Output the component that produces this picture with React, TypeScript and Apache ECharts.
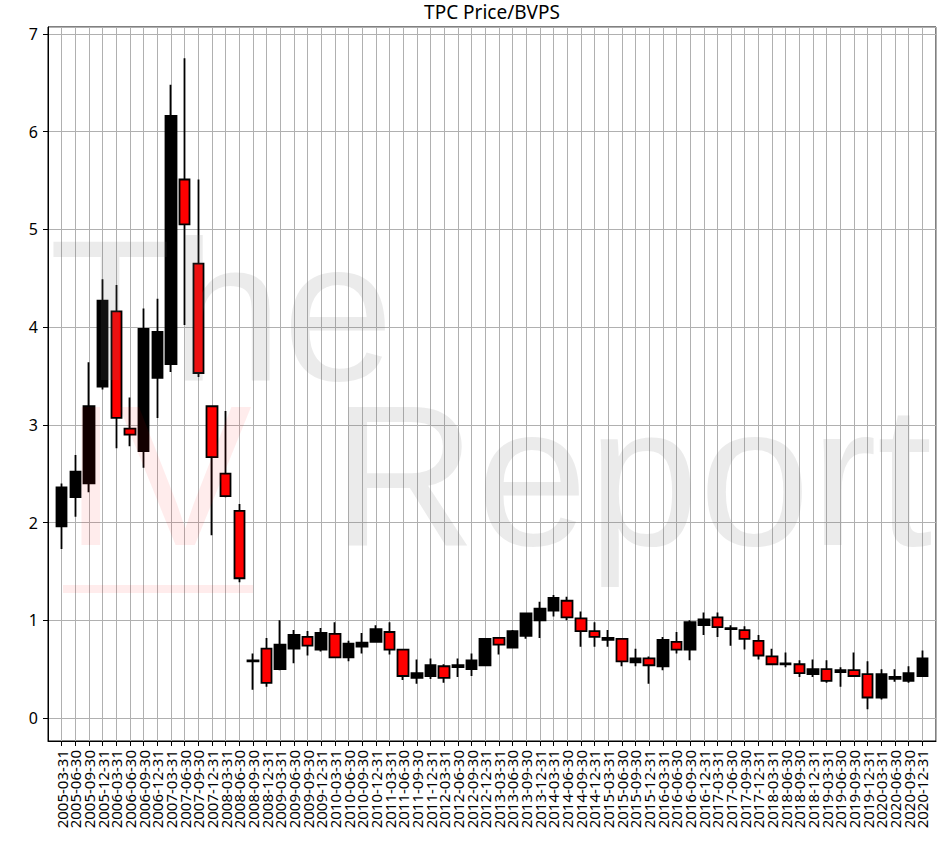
import React, { useEffect, useRef } from "react";
import * as echarts from "echarts";

const dates = [
  "2005-03-31", "2005-06-30", "2005-09-30", "2005-12-31",
  "2006-03-31", "2006-06-30", "2006-09-30", "2006-12-31",
  "2007-03-31", "2007-06-30", "2007-09-30", "2007-12-31",
  "2008-03-31", "2008-06-30", "2008-09-30", "2008-12-31",
  "2009-03-31", "2009-06-30", "2009-09-30", "2009-12-31",
  "2010-03-31", "2010-06-30", "2010-09-30", "2010-12-31",
  "2011-03-31", "2011-06-30", "2011-09-30", "2011-12-31",
  "2012-03-31", "2012-06-30", "2012-09-30", "2012-12-31",
  "2013-03-31", "2013-06-30", "2013-09-30", "2013-12-31",
  "2014-03-31", "2014-06-30", "2014-09-30", "2014-12-31",
  "2015-03-31", "2015-06-30", "2015-09-30", "2015-12-31",
  "2016-03-31", "2016-06-30", "2016-09-30", "2016-12-31",
  "2017-03-31", "2017-06-30", "2017-09-30", "2017-12-31",
  "2018-03-31", "2018-06-30", "2018-09-30", "2018-12-31",
  "2019-03-31", "2019-06-30", "2019-09-30", "2019-12-31",
  "2020-03-31", "2020-06-30", "2020-09-30", "2020-12-31",
];

const opens = [
  1.96, 2.26, 2.40, 3.39, 4.16, 2.96, 2.73, 3.48, 3.62, 5.51, 4.65, 3.19, 2.50, 2.12,
  0.58, 0.71, 0.50, 0.71, 0.83, 0.70, 0.86, 0.62, 0.73, 0.78, 0.88, 0.70, 0.41, 0.43,
  0.53, 0.52, 0.50, 0.54, 0.82, 0.72, 0.84, 1.00, 1.10, 1.20, 1.02, 0.89, 0.80, 0.81,
  0.57, 0.61, 0.53, 0.78, 0.70, 0.95, 1.03, 0.91, 0.90, 0.79, 0.63, 0.55, 0.55, 0.45,
  0.50, 0.47, 0.49, 0.45, 0.21, 0.40, 0.38, 0.43,
];
const closes = [
  2.36, 2.52, 3.19, 4.27, 3.07, 2.90, 3.98, 3.95, 6.16, 5.05, 3.53, 2.67, 2.27, 1.43,
  0.59, 0.36, 0.75, 0.85, 0.74, 0.87, 0.62, 0.76, 0.77, 0.91, 0.70, 0.43, 0.46, 0.54,
  0.41, 0.54, 0.59, 0.81, 0.75, 0.89, 1.07, 1.12, 1.23, 1.03, 0.89, 0.83, 0.82, 0.58,
  0.61, 0.54, 0.80, 0.70, 0.98, 1.01, 0.93, 0.92, 0.81, 0.64, 0.55, 0.56, 0.46, 0.50,
  0.38, 0.49, 0.43, 0.21, 0.45, 0.42, 0.46, 0.61,
];
const lows = [
  1.73, 2.06, 2.31, 3.36, 2.76, 2.78, 2.56, 3.07, 3.54, 4.02, 3.49, 1.87, 2.26, 1.39,
  0.29, 0.32, 0.49, 0.56, 0.64, 0.68, 0.62, 0.58, 0.66, 0.78, 0.65, 0.39, 0.35, 0.40,
  0.36, 0.42, 0.43, 0.54, 0.65, 0.72, 0.81, 0.82, 1.04, 1.00, 0.73, 0.73, 0.73, 0.53,
  0.53, 0.35, 0.49, 0.66, 0.59, 0.85, 0.83, 0.74, 0.70, 0.60, 0.54, 0.52, 0.42, 0.42,
  0.36, 0.32, 0.43, 0.09, 0.19, 0.37, 0.36, 0.43,
];
const highs = [
  2.40, 2.69, 3.64, 4.49, 4.43, 3.28, 4.19, 4.29, 6.48, 6.75, 5.51, 3.19, 3.14, 2.19,
  0.66, 0.82, 1.00, 0.90, 0.89, 0.92, 0.98, 0.79, 0.87, 0.95, 0.98, 0.70, 0.60, 0.61,
  0.55, 0.61, 0.66, 0.81, 0.83, 0.90, 1.08, 1.19, 1.26, 1.24, 1.09, 0.98, 0.90, 0.81,
  0.71, 0.63, 0.83, 0.88, 1.00, 1.08, 1.08, 0.95, 0.94, 0.85, 0.71, 0.67, 0.59, 0.60,
  0.59, 0.52, 0.67, 0.58, 0.50, 0.50, 0.53, 0.69,
];

const yTickValues = [0, 1, 2, 3, 4, 5, 6, 7];

const TITLE = "TPC Price/BVPS";

export default function App() {
  const ref = useRef<HTMLDivElement>(null);

  useEffect(() => {
    if (!ref.current) return;
    const chart = echarts.init(ref.current, null, { renderer: "svg" });
    const data = dates.map((_, i) => [i, opens[i], closes[i], lows[i], highs[i]]);
    const gray = "rgba(117,117,117,0.145)";
    const red = "rgba(255,0,0,0.075)";
    const wmFont = '200px "Liberation Sans", Arial, sans-serif';
    const option: any = {
      animation: false,
      backgroundColor: "#ffffff",
      grid: {
        left: 48,
        right: 13,
        top: 27,
        bottom: 100,
        show: true,
        borderColor: "#000",
        borderWidth: 1,
        backgroundColor: "transparent",
      },
      xAxis: {
        type: "value",
        min: -1,
        max: 64,
        interval: 1,
        axisLine: { show: true, onZero: false, lineStyle: { color: "#000", width: 1 } },
        axisTick: { show: true, length: 5, lineStyle: { color: "#000", width: 1 } },
        axisLabel: {
          rotate: 90,
          margin: 9,
          fontSize: 15,
          color: "#000",
          fontFamily: '"Noto Sans", sans-serif',
          showMinLabel: false,
          showMaxLabel: false,
          formatter: (v: number) => dates[v] ?? "",
        },
        splitLine: { show: true, lineStyle: { color: "#b0b0b0", width: 1 } },
      },
      yAxis: {
        type: "value",
        min: -0.235,
        max: 7.07,
        splitNumber: 7,
        axisLine: { show: true, onZero: false, lineStyle: { color: "#000", width: 1 } },
        axisTick: { show: true, length: 5, lineStyle: { color: "#000", width: 1 } },
        axisLabel: {
          margin: 10,
          fontSize: 16,
          color: "#000",
          fontFamily: '"Noto Sans", sans-serif',
          showMinLabel: false,
          showMaxLabel: false,
          formatter: (v: number) => (yTickValues.includes(v) ? String(v) : ""),
        },
        splitLine: { show: true, lineStyle: { color: "#b0b0b0", width: 1 } },
      },
      series: [
        {
          type: "candlestick",
          data,
          encode: { x: 0, y: [1, 2, 3, 4] },
          barWidth: 11,
          itemStyle: {
            color: "#000000",
            color0: "#ff0000",
            borderColor: "#000000",
            borderColor0: "#000000",
            borderWidth: 1.8,
          },
        },
      ],
      graphic: [
        {
          type: "text",
          z: 100,
          x: 492,
          y: 12,
          style: {
            text: TITLE,
            fill: "#000",
            font: '19px "Noto Sans", sans-serif',
            textAlign: "center",
            textVerticalAlign: "middle",
          },
        },
        {
          type: "text",
          z: 100,
          silent: true,
          x: 49,
          y: 380 - 69.3,
          style: {
            text: "The",
            fill: gray,
            font: wmFont,
            lineHeight: 150,
            textAlign: "left",
            textVerticalAlign: "middle",
          },
        },
        {
          type: "text",
          z: 100,
          silent: true,
          x: 63,
          y: 545 - 69.3,
          style: {
            text: "IV",
            fill: red,
            font: wmFont,
            lineHeight: 150,
            textAlign: "left",
            textVerticalAlign: "middle",
          },
        },
        {
          type: "rect",
          z: 100,
          silent: true,
          shape: { x: 63, y: 585, width: 190, height: 8 },
          style: { fill: red },
        },
        {
          type: "text",
          z: 100,
          silent: true,
          x: 332,
          y: 545 - 69.3,
          style: {
            text: "Report",
            fill: gray,
            font: wmFont,
            lineHeight: 150,
            textAlign: "left",
            textVerticalAlign: "middle",
          },
        },
      ],
    };
    chart.setOption(option);
    return () => chart.dispose();
  }, []);

  return (
    <div
      ref={ref}
      style={{ position: "fixed", left: 0, top: 0, width: 949, height: 841, background: "#fff" }}
    />
  );
}
